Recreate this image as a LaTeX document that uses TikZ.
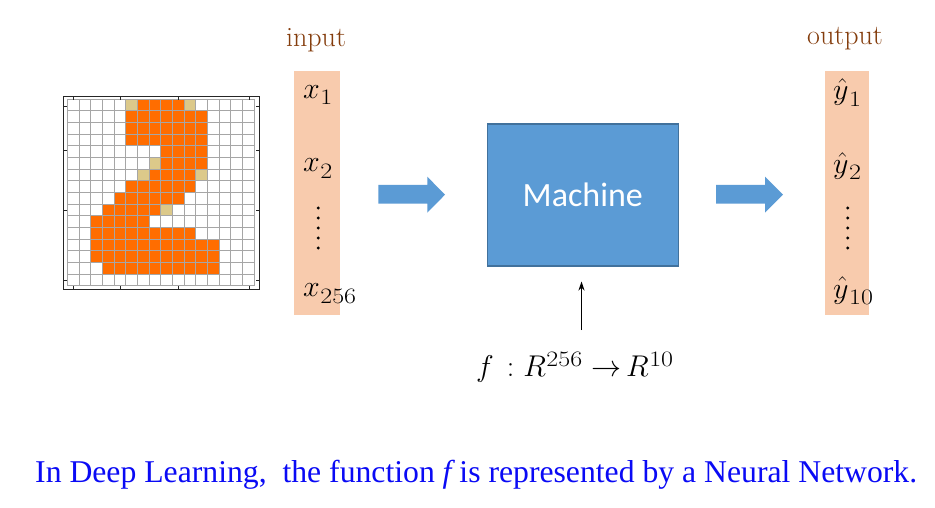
\RequirePackage{fix-cm}
\documentclass[tikz,border=0pt]{standalone}
\usepackage{fontspec}
\usepackage{graphicx}
\newfontfamily\capfont{Liberation Serif}
\newfontfamily\machfont{Carlito}
\usetikzlibrary{arrows.meta}
\newcommand\lsub[1]{\kern0.5pt\raisebox{-6.5pt}{\scalebox{1.18}[1]{\fontsize{22}{22}\selectfont #1}}}
\newcommand\lsup[1]{\kern0.5pt\raisebox{10pt}{\scalebox{1.18}[1]{\fontsize{22}{22}\selectfont #1}}}
\definecolor{peach}{HTML}{F8CBAD}
\definecolor{boxblue}{HTML}{5B9BD5}
\definecolor{boxborder}{HTML}{41719C}
\definecolor{labbrown}{HTML}{843C0C}
\definecolor{capblue}{HTML}{0A0AF5}
\definecolor{pixorange}{HTML}{FF6D00}
\definecolor{pixtan}{HTML}{DCC98A}
\definecolor{gridgray}{HTML}{A6A6A6}
\tikzset{
  mathlab/.style={anchor=base west, inner sep=0pt, font=\fontsize{30}{34}\selectfont},
  headlab/.style={anchor=base, inner sep=0pt, text=labbrown, font=\fontsize{28}{32}\selectfont},
  blockarrow/.style={fill=boxblue},
  machinebox/.style={draw=boxborder, fill=boxblue, line width=1.5pt, minimum width=191pt, minimum height=142pt, inner sep=0pt, text=white, font=\machfont\fontsize{34}{40}\selectfont},
}
\begin{document}
\begin{tikzpicture}[x=1pt,y=-1pt]
\useasboundingbox (0,0) rectangle (935,508);
\fill[white] (0,0) rectangle (935,508);
% ---------- pixel grid ----------
\def\gx{67.3}\def\gy{99}\def\cs{11.68}
\foreach \r/\a/\b in {0/6/9,1/5/11,2/5/11,3/5/11,4/8/11,5/8/11,6/7/10,7/5/10,8/4/9,9/3/7,10/2/6,11/2/10,12/2/12,13/2/12,14/3/12}
  \fill[pixorange] ({\gx+\a*\cs},{\gy+\r*\cs}) rectangle ({\gx+(\b+1)*\cs},{\gy+(\r+1)*\cs});
\foreach \r/\c in {0/5,0/10,5/7,6/6,6/11,9/8}
  \fill[pixtan] ({\gx+\c*\cs},{\gy+\r*\cs}) rectangle ({\gx+(\c+1)*\cs},{\gy+(\r+1)*\cs});
\foreach \i in {0,...,16} {
  \draw[gridgray, line width=0.8pt] ({\gx+\i*\cs},\gy) -- ({\gx+\i*\cs},{\gy+16*\cs});
  \draw[gridgray, line width=0.8pt] (\gx,{\gy+\i*\cs}) -- ({\gx+16*\cs},{\gy+\i*\cs});
}
\draw[black!85, line width=1pt] (63.3,97) rectangle (259,289.5);
\foreach \t in {73,120,178,249} {
  \draw[black!85, line width=0.8pt] (\t,97) -- (\t,100.5);
  \draw[black!85, line width=0.8pt] (\t,289.5) -- (\t,286);
}
\foreach \t in {106,150,210.5,280.5} {
  \draw[black!85, line width=0.8pt] (63.3,\t) -- (66.8,\t);
  \draw[black!85, line width=0.8pt] (259,\t) -- (255.5,\t);
}
% ---------- input column ----------
\fill[peach] (294,71) rectangle (340,315);
\node[headlab] (inlab) at (316,46.5) {input};
\node[mathlab] (x1) at (303,98.3) {$x$\lsub{1}};
\node[mathlab] (x2) at (303,171.7) {$x$\lsub{2}};
\node[mathlab] (x256) at (303,296.7) {$x$\lsub{256}};
\foreach \k in {0,...,4} \fill (318.3,{208+\k*10}) circle (1.6);
% ---------- output column ----------
\fill[peach] (825,71) rectangle (869,315);
\node[headlab] (outlab) at (845,45) {output};
\node[mathlab] (y1) at (833,100) {$\hat{y}$\lsub{1}};
\node[mathlab] (y2) at (833,173.3) {$\hat{y}$\lsub{2}};
\node[mathlab] (y10) at (833,298) {$\hat{y}$\lsub{10}};
\foreach \k in {0,...,4} \fill (847.7,{208+\k*10}) circle (1.6);
% ---------- block arrows ----------
\fill[blockarrow] (378.3,185) -- (427.3,185) -- (427.3,176.7) -- (445,194.7) -- (427.3,212.7) -- (427.3,203.7) -- (378.3,203.7) -- cycle;
\fill[blockarrow] (716,185) -- (765,185) -- (765,176.7) -- (783,194.7) -- (765,212.7) -- (765,203.7) -- (716,203.7) -- cycle;
% ---------- machine ----------
\node[machinebox] (mach) at (582.8,195.2) {Machine};
% ---------- function ----------
\node[inner sep=0pt, anchor=base west, font=\fontsize{30}{34}\selectfont] (func) at (476,376.7) {$f$\hspace{13pt}$:$\hspace{9pt}$R$\lsup{256}\hspace{9pt}$\rightarrow$\hspace{5pt}$R$\lsup{10}};
\coordinate (a0) at (581.5,330);
\coordinate (a1) at (581.5,281.5);
\draw[-{Stealth[length=9pt,width=6pt]}, line width=0.9pt] (a0) -- (a1);
% ---------- caption ----------
\node[anchor=base west, inner sep=0pt, text=capblue, font=\capfont\fontsize{31.7}{38}\selectfont] (cap) at (35,482) {In Deep Learning,\ \ the function {\itshape f} is represented by a Neural Network.};
\end{tikzpicture}
\end{document}
